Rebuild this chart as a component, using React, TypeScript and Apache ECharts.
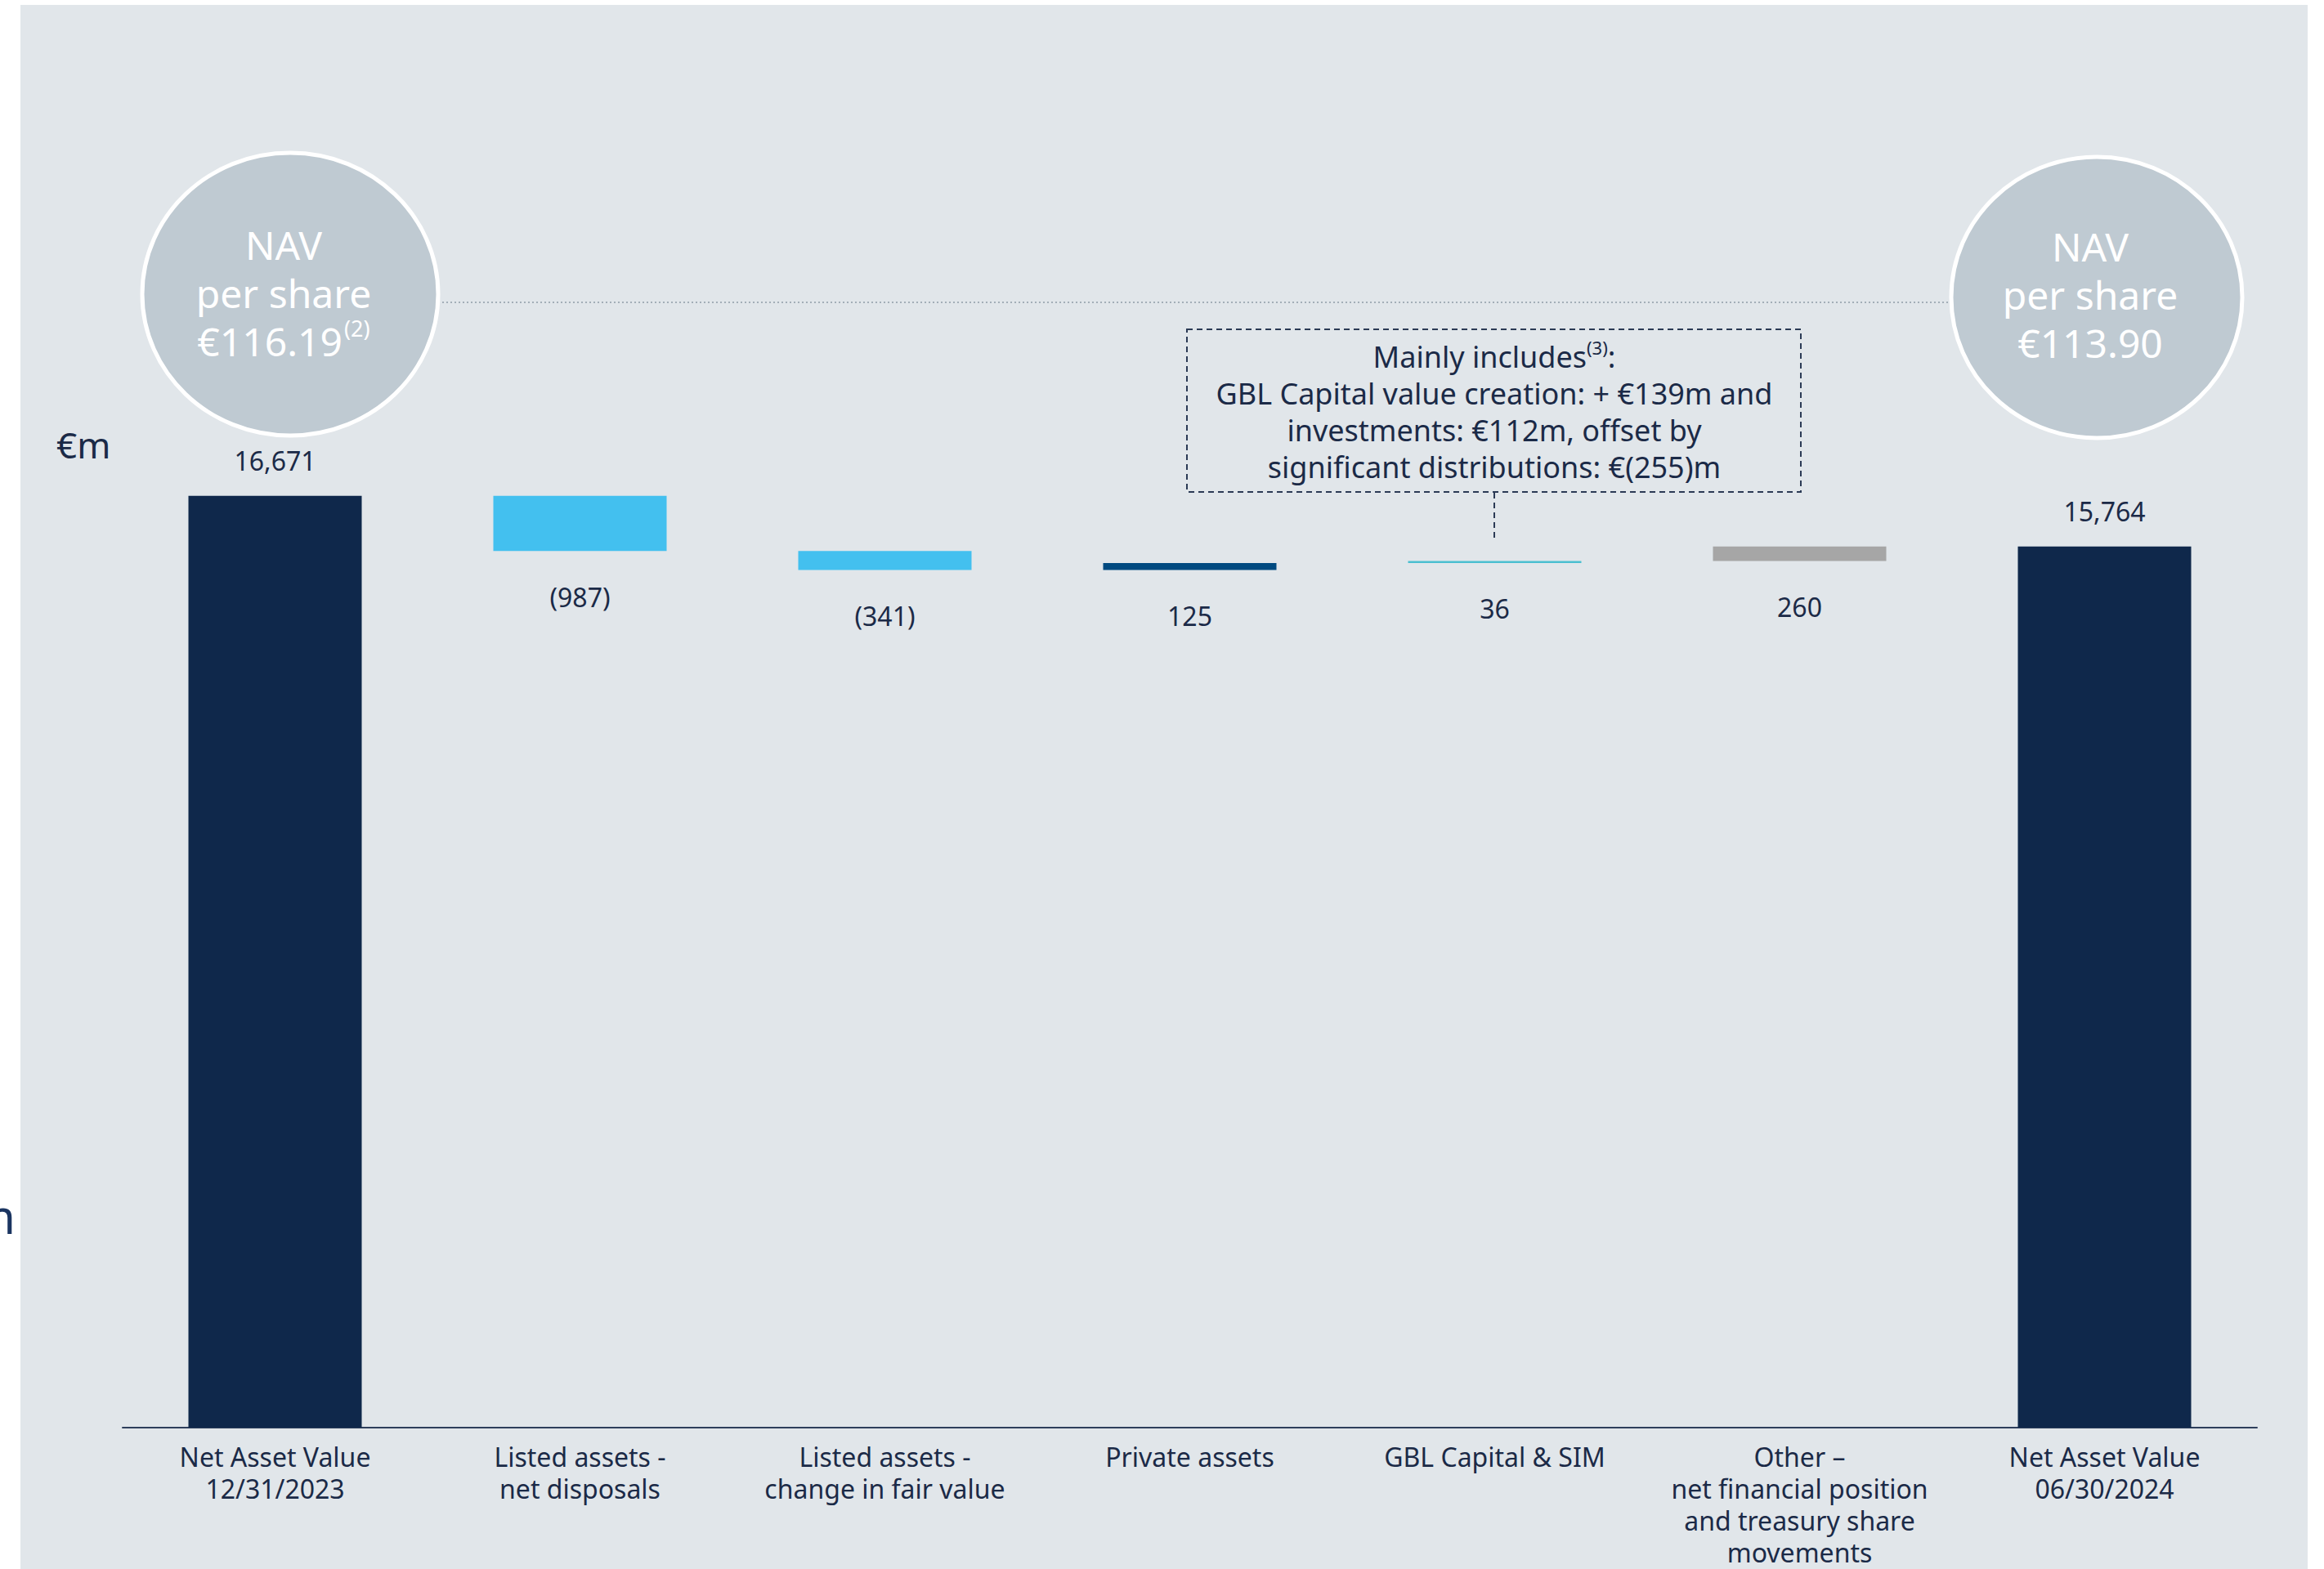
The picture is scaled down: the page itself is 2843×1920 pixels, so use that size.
import React, { useEffect, useRef } from "react";
import * as echarts from "echarts";

const categories = [
  "Net Asset Value\n12/31/2023",
  "Listed assets -\nnet disposals",
  "Listed assets -\nchange in fair value",
  "Private assets",
  "GBL Capital & SIM",
  "Other –\nnet financial position\nand treasury share\nmovements",
  "Net Asset Value\n06/30/2024",
];
const startValue = 16671;
const deltas = [-987, -341, 125, 36, 260];
const endValue = 15764;
const barColors = ["#0F284B", "#43C0EF", "#43C0EF", "#004A80", "#4BBFD0", "#A6A6A6", "#0F284B"];
const navStart = "€116.19";
const navStartNote = "(2)";
const navEnd = "€113.90";
const noteTitle = "Mainly includes";
const noteRef = "(3)";
const noteLines = [
  "GBL Capital value creation: + €139m and",
  "investments: €112m, offset by",
  "significant distributions: €(255)m",
];

const FONT = "'Noto Sans', sans-serif";
const NAVY = "#1B2A47";

export default function App() {
  const ref = useRef<HTMLDivElement>(null);
  useEffect(() => {
    document.body.style.margin = "0";
    if (!ref.current) return;
    const chart = echarts.init(ref.current, undefined, { renderer: "svg" });

    const bases: number[] = [0];
    const heights: number[] = [startValue];
    const labels: string[] = [startValue.toLocaleString("en-US")];
    let running = startValue;
    deltas.forEach((d) => {
      const next = running + d;
      bases.push(Math.min(running, next));
      heights.push(Math.abs(d));
      labels.push(d < 0 ? `(${Math.abs(d)})` : `${d}`);
      running = next;
    });
    bases.push(0);
    heights.push(endValue);
    labels.push(endValue.toLocaleString("en-US"));
    const last = heights.length - 1;

    const option: any = {
      animation: false,
      backgroundColor: "#ffffff",
      textStyle: { fontFamily: FONT },
      grid: { left: 150, right: 82, top: 379, bottom: 173, outerBoundsMode: "none", containLabel: false },
      xAxis: {
        type: "category",
        data: categories,
        axisLine: { lineStyle: { color: "#2E3F5C", width: 2 } },
        axisTick: { show: false },
        axisLabel: {
          interval: 0,
          fontSize: 32,
          lineHeight: 39,
          color: NAVY,
          margin: 16,
          fontFamily: FONT,
        },
      },
      yAxis: {
        type: "value",
        min: 0,
        max: 20000,
        show: false,
        splitLine: { show: false },
      },
      series: [
        {
          type: "bar",
          stack: "w",
          data: bases,
          itemStyle: { color: "transparent" },
          silent: true,
          barWidth: 212,
        },
        {
          type: "bar",
          stack: "w",
          barWidth: 212,
          data: heights.map((h, i) => ({
            value: h,
            itemStyle: { color: barColors[i] },
            label: {
              position: i === 0 || i === last ? "top" : "bottom",
              distance: i === 0 || i === last ? 27 : 40,
            },
          })),
          label: {
            show: true,
            fontSize: 32,
            color: NAVY,
            fontFamily: FONT,
            formatter: (p: any) => labels[p.dataIndex],
          },
        },
      ],
      graphic: [
        {
          type: "rect",
          z: -10,
          shape: { x: 25, y: 6, width: 2798, height: 1914 },
          style: { fill: "#E1E6EA" },
        },
        {
          type: "text",
          style: {
            text: "m",
            x: 19,
            y: 1487,
            align: "right",
            verticalAlign: "middle",
            fontSize: 58,
            fontFamily: FONT,
            fill: "#1B3561",
          },
        },
        {
          type: "line",
          shape: { x1: 536, y1: 370, x2: 2388, y2: 370 },
          style: { stroke: "#A3AEB8", lineWidth: 2, lineDash: [2, 3] },
        },
        {
          type: "ellipse",
          shape: { cx: 355, cy: 360, rx: 181, ry: 173 },
          style: { fill: "#BFCAD2", stroke: "#ffffff", lineWidth: 5 },
        },
        {
          type: "ellipse",
          shape: { cx: 2565, cy: 364, rx: 178, ry: 172 },
          style: { fill: "#BFCAD2", stroke: "#ffffff", lineWidth: 5 },
        },
        {
          type: "text",
          style: {
            text: `{a|NAV}\n{a|per share}\n{a|${navStart}}{s|${navStartNote}}`,
            x: 347,
            y: 358,
            align: "center",
            verticalAlign: "middle",
            fontFamily: FONT,
            rich: {
              a: { fontSize: 48, lineHeight: 59, fill: "#ffffff", color: "#ffffff", fontFamily: FONT },
              s: { fontSize: 27, lineHeight: 34, fill: "#ffffff", color: "#ffffff", verticalAlign: "top", padding: [0, 0, 0, 2], fontFamily: FONT },
            },
          },
        },
        {
          type: "text",
          style: {
            text: `{a|NAV}\n{a|per share}\n{a|${navEnd}}`,
            x: 2557,
            y: 360,
            align: "center",
            verticalAlign: "middle",
            fontFamily: FONT,
            rich: {
              a: { fontSize: 48, lineHeight: 59, fill: "#ffffff", color: "#ffffff", fontFamily: FONT },
            },
          },
        },
        {
          type: "rect",
          shape: { x: 1452, y: 403, width: 751, height: 199 },
          style: { fill: "none", stroke: "#2B3A55", lineWidth: 2, lineDash: [7, 5] },
        },
        {
          type: "line",
          shape: { x1: 1828, y1: 603, x2: 1828, y2: 663 },
          style: { stroke: "#2B3A55", lineWidth: 2, lineDash: [7, 5] },
        },
        {
          type: "text",
          style: {
            text:
              `{t|${noteTitle}}{s|${noteRef}}{t|:}\n` +
              noteLines.map((l) => `{t|${l}}`).join("\n"),
            x: 1828,
            y: 504,
            align: "center",
            verticalAlign: "middle",
            fontFamily: FONT,
            rich: {
              t: { fontSize: 36, lineHeight: 45, fill: NAVY, color: NAVY, fontFamily: FONT },
              s: { fontSize: 22, lineHeight: 28, fill: NAVY, color: NAVY, verticalAlign: "top", fontFamily: FONT },
            },
          },
        },
        {
          type: "text",
          style: {
            text: "€m",
            x: 69,
            y: 544,
            align: "left",
            verticalAlign: "middle",
            fontSize: 44,
            fontFamily: FONT,
            fill: NAVY,
          },
        },
      ],
    };
    chart.setOption(option);
    return () => chart.dispose();
  }, []);
  return <div ref={ref} style={{ width: 2843, height: 1920 }} />;
}
